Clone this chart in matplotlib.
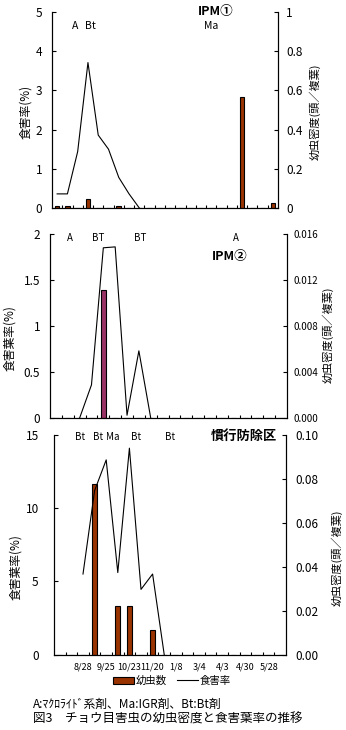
"""
Fig.3 larval density and leaf damage rate, three plots (IPM1, IPM2, conventional)
"""
import numpy as np
import matplotlib.pyplot as plt
from matplotlib.patches import Patch
from matplotlib.lines import Line2D

plt.rcParams['font.family'] = ['Noto Sans CJK JP', 'DejaVu Sans']

nan = np.nan

# IPM1 : 22 survey dates
ipm1_damage = [0.36, 0.36, 1.44, 3.71, 1.86, 1.5, 0.78, 0.36, 0.0] + [nan] * 13
ipm1_density = [0.01, 0.01, 0, 0.046, 0, 0, 0.01, 0, 0, 0, 0, 0,
                0, 0, 0, 0, 0, 0, 0.564, 0, 0, 0.027]

# IPM2 : 20 survey dates
ipm2_damage = [nan, nan, 0.0, 0.36, 1.85, 1.86, 0.03, 0.73, 0.0] + [nan] * 11
ipm2_density = [0, 0, 0, 0, 0.0111] + [0] * 15

# conventional : 20 survey dates
conv_damage = [nan, nan, 5.5, 11.2, 13.3, 5.6, 14.1, 4.45, 5.5, 0.0] + [nan] * 10
conv_density = [0, 0, 0, 0.0778, 0, 0.0222, 0.0222, 0, 0.0111] + [0] * 11

conv_date_pos = [2, 4, 6, 8, 10, 12, 14, 16, 18]
conv_dates = ['8/28', '9/25', '10/23', '11/20', '1/8', '3/4', '4/3', '4/30', '5/28']

W, H = 346, 730
fig = plt.figure(figsize=(W / 100, H / 100), dpi=100)


def box(l, t, r, b):
    return [l / W, 1 - b / H, (r - l) / W, (b - t) / H]


def put(x, y, s, size=7, **kw):
    fig.text(x / W, 1 - y / H, s, fontsize=size, ha='center', va='center', **kw)


def panel(rect, damage, density, color, ylim, yticks, ylabels, y2lim, y2ticks, y2labels,
          lpad, rpad, rsize):
    n = len(damage)
    x = np.arange(n)
    ax = fig.add_axes(rect)
    ax2 = ax.twinx()
    ax2.bar(x, density, width=0.46, color=color, edgecolor='black', linewidth=0.8)
    ax.plot(x, damage, color='black', linewidth=0.8)
    ax.set_zorder(ax2.get_zorder() + 1)
    ax.patch.set_visible(False)
    ax.set_xlim(-0.5, n - 0.5)
    ax.set_ylim(*ylim)
    ax2.set_ylim(*y2lim)
    ax.set_yticks(yticks, ylabels)
    ax2.set_yticks(y2ticks, y2labels)
    ax.set_xticks(np.arange(0.5, n - 1, 1.0), minor=True)
    ax.set_xticks([])
    for a in (ax, ax2):
        a.spines['top'].set_visible(False)
        for s in a.spines.values():
            s.set_linewidth(0.8)
    ax.tick_params(axis='y', direction='in', length=3, width=0.8, pad=lpad, labelsize=8.5)
    ax2.tick_params(axis='y', direction='in', length=3, width=0.8, pad=rpad, labelsize=rsize)
    ax.tick_params(axis='x', which='minor', direction='in', length=2.5, width=0.8)
    ax.tick_params(axis='x', which='major', length=0, pad=6, labelsize=6.5)
    return ax, ax2


# IPM1
ax1, ax1b = panel(box(52, 12, 278, 208), ipm1_damage, ipm1_density, '#993300',
                  (0, 5), [0, 1, 2, 3, 4, 5], ['0', '1', '2', '3', '4', '5'],
                  (0, 1), [0, 0.2, 0.4, 0.6, 0.8, 1], ['0', '0.2', '0.4', '0.6', '0.8', '1'],
                  7, 6, 8.5)
put(75, 26, 'A', size=7.5)
put(90, 26, 'Bt', size=7.5)
put(211, 26, 'Ma', size=7.5)
put(216, 12, 'IPM①', size=9, fontweight='bold')
put(26, 112, '食害率(%)', size=8.5, rotation=90)
put(315, 112, '幼虫密度(頭／複葉)', size=8, rotation=90)

# IPM2
ax2, ax2b = panel(box(50, 234, 287, 418), ipm2_damage, ipm2_density, '#993366',
                  (0, 2), [0, 0.5, 1, 1.5, 2], ['0', '0.5', '1', '1.5', '2'],
                  (0, 0.016), [0, 0.004, 0.008, 0.012, 0.016],
                  ['0.000', '0.004', '0.008', '0.012', '0.016'],
                  7, 4.5, 7)
put(70, 238, 'A', size=7)
put(98, 238, 'BT', size=7)
put(140, 238, 'BT', size=7)
put(236, 238, 'A', size=7)
put(230, 257, 'IPM②', size=9, fontweight='bold')
put(10, 338, '食害葉率(%)', size=8.5, rotation=90)
put(328, 335, '幼虫密度(頭／複葉)', size=8, rotation=90)

# conventional
ax3, ax3b = panel(box(54, 435, 286, 654.5), conv_damage, conv_density, '#993300',
                  (0, 15), [0, 5, 10, 15], ['0', '5', '10', '15'],
                  (0, 0.1), [0, 0.02, 0.04, 0.06, 0.08, 0.1],
                  ['0.00', '0.02', '0.04', '0.06', '0.08', '0.10'],
                  11, 6.5, 8.5)
ax3.set_xticks(conv_date_pos, conv_dates)
for xx, s in [(80, 'Bt'), (98, 'Bt'), (113, 'Ma'), (136, 'Bt'), (170, 'Bt')]:
    put(xx, 437, s, size=7)
fig.text(277 / W, 1 - 436 / H, '慣行防除区', fontsize=9.5, fontweight='bold', ha='right', va='center')
put(16, 567, '食害葉率(%)', size=8.5, rotation=90)
put(337, 558, '幼虫密度(頭／複葉)', size=8, rotation=90)

handles = [Patch(facecolor='#993300', edgecolor='black', linewidth=0.8),
           Line2D([], [], color='black', linewidth=0.8)]
fig.legend(handles, ['幼虫数', '食害率'], loc='center', ncol=2, frameon=False,
           bbox_to_anchor=(172 / W, 1 - 681 / H), fontsize=7.5,
           handlelength=2.0, handletextpad=0.2, columnspacing=1.0)

fig.text(33 / W, 1 - 704 / H, 'A:ﾏｸﾛﾗｲﾄﾞ系剤、Ma:IGR剤、Bt:Bt剤', fontsize=8.5, ha='left', va='center')
fig.text(33 / W, 1 - 719 / H, '図3　チョウ目害虫の幼虫密度と食害葉率の推移', fontsize=9, ha='left', va='center')

fig.savefig('out.png', dpi=100)
